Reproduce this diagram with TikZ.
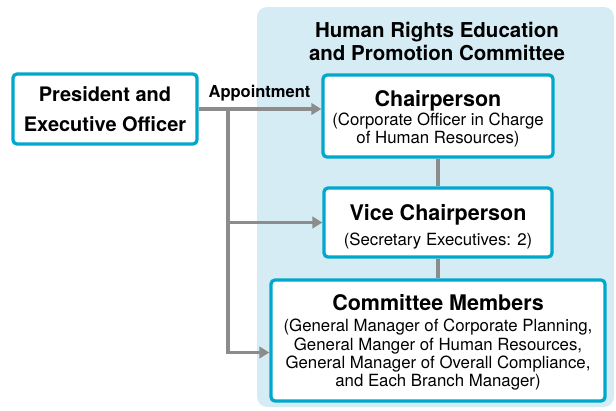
\documentclass[tikz,border=0pt]{standalone}
\usepackage{fontspec}
\setmainfont{TeX Gyre Heros}
\usetikzlibrary{arrows.meta,positioning}

\definecolor{boxcyan}{HTML}{00A8CD}
\definecolor{panelblue}{HTML}{D6ECF5}
\definecolor{linegray}{HTML}{8C8C8C}

\tikzset{
	orgbox/.style={draw=boxcyan,line width=3.3pt,rounded corners=4pt,fill=white,inner sep=0pt},
	headtxt/.style={anchor=base,inner sep=0pt,font=\fontsize{21.5}{24}\selectfont\bfseries},
	subtxt/.style={anchor=base,inner sep=0pt,font=\fontsize{16.8}{19}\selectfont},
	link/.style={draw=linegray,line width=3.4pt},
	arr/.style={link,-{Triangle[length=10pt,width=11.5pt]}}
}

\begin{document}
\begin{tikzpicture}[x=1pt,y=-1pt]
	\useasboundingbox (0,0) rectangle (616,410);

	%PANEL
	\fill[panelblue,rounded corners=10pt] (257,7) rectangle (614,407);	%committee background
	\node[headtxt,font=\fontsize{20.5}{24}\selectfont\bfseries] (title1) at (437,37.3) {Human Rights Education};
	\node[headtxt,font=\fontsize{20.5}{24}\selectfont\bfseries] (title2) at (437,60.7) {and Promotion Committee};

	%BOXES
	\node[orgbox,minimum width=184pt,minimum height=70pt] (pres) at (105,109) {};
	\node[orgbox,minimum width=230pt,minimum height=82pt] (chair) at (438,116) {};
	\node[orgbox,minimum width=228pt,minimum height=69pt] (vice) at (438,222.5) {};
	\node[orgbox,minimum width=334pt,minimum height=121pt] (comm) at (438,340.5) {};

	%TEXTS
	\node[headtxt,font=\fontsize{20}{24}\selectfont\bfseries] (pres1) at (105,101.7) {President and};
	\node[headtxt,font=\fontsize{20}{24}\selectfont\bfseries] (pres2) at (105,131.7) {Executive Officer};
	\node[headtxt] (chairhead) at (438,106) {Chairperson};
	\foreach \y/\txt [count=\i] in {125.5/{(Corporate Officer in Charge},143.5/{of Human Resources)}}{
		\node[subtxt] (chair-\i) at (438,\y) {\txt};
	}
	\node[headtxt] (vicehead) at (438,220) {Vice Chairperson};
	\node[subtxt] (vice-1) at (438,245.7) {(Secretary Executives: 2)};
	\node[headtxt] (commhead) at (438,310.7) {Committee Members};
	\foreach \y/\txt [count=\i] in {331.7/{(General Manager of Corporate Planning,},
			350/{General Manger of Human Resources,},
			368.3/{General Manager of Overall Compliance,},
			386.7/{and Each Branch Manager)}}{
		\node[subtxt] (comm-\i) at (438,\y) {\txt};
	}

	%CONNECTORS
	\coordinate (split) at (228,109);		%top of the trunk
	\coordinate (foot) at (228,352.5);		%bottom of the trunk
	\draw[arr] (pres.east) -- (pres.east -| chair.west);
	\node[headtxt,font=\fontsize{16.5}{20}\selectfont\bfseries] (appt) at (259.5,97.7) {Appointment};
	\draw[arr] (split) -- (foot) -- (foot -| comm.west);
	\draw[arr] (split |- vice.west) -- (vice.west);
	\draw[link] (chair.south) -- (vice.north);
	\draw[link] (vice.south) -- (comm.north);
\end{tikzpicture}
\end{document}
